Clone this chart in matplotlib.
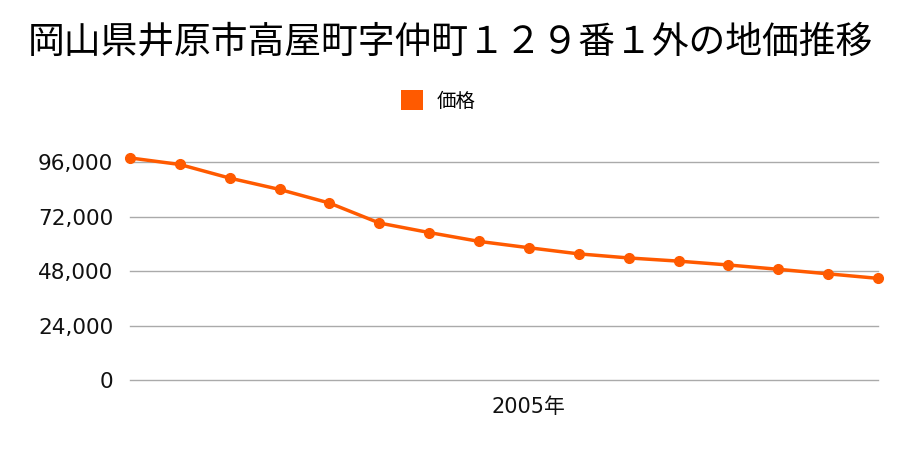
import matplotlib
matplotlib.use('Agg')
import matplotlib.pyplot as plt
from matplotlib.patches import Patch

plt.rcParams['font.family'] = ['Noto Sans CJK JP', 'DejaVu Sans']

# データ
title = '岡山県井原市高屋町字仲町１２９番１外の地価推移'
series_name = '価格'
years = list(range(1997, 2013))
prices = [97900, 95000, 89000, 84000, 78000, 69200, 65000, 61100,
          58300, 55600, 53800, 52400, 50700, 48800, 46800, 44800]
tick_years = [2005]
tick_labels = ['2005年']
y_ticks = [0, 24000, 48000, 72000, 96000]

color = '#ff5a00'
num_font = ['DejaVu Sans', 'Noto Sans CJK JP']

fig = plt.figure(figsize=(9, 4.5), dpi=100)
ax = fig.add_axes([130 / 900, 1 - 380 / 450, 748 / 900, 245 / 450])

ax.plot(years, prices, color=color, lw=2.5, marker='o', ms=7, clip_on=False, zorder=3)

ax.set_xlim(years[0], years[-1])
ax.set_ylim(0, 108000)
ax.set_yticks(y_ticks)
ax.set_yticklabels([f'{v:,}' for v in y_ticks], fontsize=15.5, family=num_font)
ax.set_xticks(tick_years)
ax.set_xticklabels(tick_labels, fontsize=15, family=num_font)
ax.tick_params(axis='both', length=0, colors='#111111')
ax.tick_params(axis='y', pad=12)
ax.tick_params(axis='x', pad=12)

for v in y_ticks:
    ax.axhline(v, color='#aaaaaa', lw=1, clip_on=False, zorder=1)
for s in ax.spines.values():
    s.set_visible(False)

fig.text(0.5, 1 - 42 / 450, title, fontsize=26.5, ha='center', va='center')

handle = Patch(facecolor=color, edgecolor='none')
fig.legend([handle], [series_name], loc='center', bbox_to_anchor=(438 / 900, 1 - 101 / 450),
           frameon=False, fontsize=14, handlelength=1.15, handleheight=1.15,
           handletextpad=0.7)

fig.savefig('out.png', dpi=100)
